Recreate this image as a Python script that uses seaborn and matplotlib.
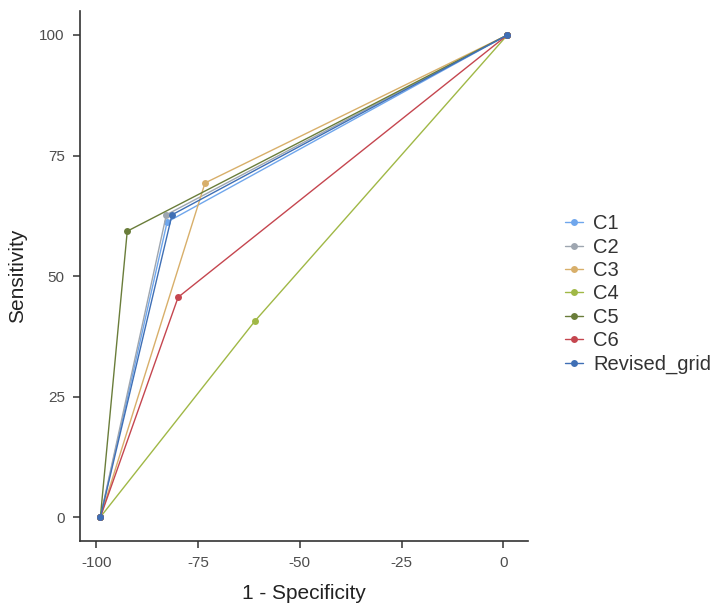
import seaborn as sns
import matplotlib.pyplot as plt
import pandas as pd

# ROC points per model (x = 1 - specificity, y = sensitivity)
models = ['C1', 'C2', 'C3', 'C4', 'C5', 'C6', 'Revised_grid']
fpr = {
    'C1': [-99, -82.6, 1],
    'C2': [-99, -82.8, 1],
    'C3': [-99, -73.3, 1],
    'C4': [-99, -61.0, 1],
    'C5': [-99, -92.4, 1],
    'C6': [-99, -79.9, 1],
    'Revised_grid': [-99, -81.4, 1],
}
tpr = {
    'C1': [0, 61.2, 100],
    'C2': [0, 62.7, 100],
    'C3': [0, 69.3, 100],
    'C4': [0, 40.7, 100],
    'C5': [0, 59.3, 100],
    'C6': [0, 45.6, 100],
    'Revised_grid': [0, 62.7, 100],
}
colors = ['#6fa6ec', '#9ea6b0', '#d8af6a', '#a0b846', '#6a7d3a', '#c5464f', '#3f6fb5']

rows = []
for m in models:
    for i, (x, y) in enumerate(zip(fpr[m], tpr[m])):
        rows.append({'model': m, 'order': i, 'x': x, 'y': y})
df = pd.DataFrame(rows)

sns.set_style('ticks')
plt.rcParams['font.family'] = ['Liberation Sans', 'DejaVu Sans']
plt.rcParams['axes.unicode_minus'] = False

fig = plt.figure(figsize=(7.21, 6.04), dpi=100)
ax = fig.add_axes([0.111, 0.104, 0.621, 0.878])

sns.lineplot(data=df, x='x', y='y', hue='model', hue_order=models,
             palette=colors, sort=False, estimator=None, units='model',
             marker='o', markersize=5, markeredgewidth=0, linewidth=1.0,
             ax=ax)

ax.set_xlim(-104, 6)
ax.set_ylim(-5, 105)
ax.set_xticks([-100, -75, -50, -25, 0])
ax.set_yticks([0, 25, 50, 75, 100])
ax.set_xlabel('1 - Specificity', fontsize=15, color='#222222', labelpad=10)
ax.set_ylabel('Sensitivity', fontsize=15, color='#222222', labelpad=9)
ax.tick_params(axis='both', labelsize=11, colors='#333333', labelcolor='#4d4d4d',
               length=5, width=1.1, pad=6)
sns.despine(ax=ax)
for s in ['left', 'bottom']:
    ax.spines[s].set_color('#333333')
    ax.spines[s].set_linewidth(1.2)

leg = ax.legend(loc='center left', bbox_to_anchor=(1.043, 0.466), frameon=False,
                title=None, fontsize=14.5, handlelength=0.9, labelspacing=0.22,
                handletextpad=0.5)
for t in leg.get_texts():
    t.set_color('#333333')

fig.savefig('out.png', dpi=100)
